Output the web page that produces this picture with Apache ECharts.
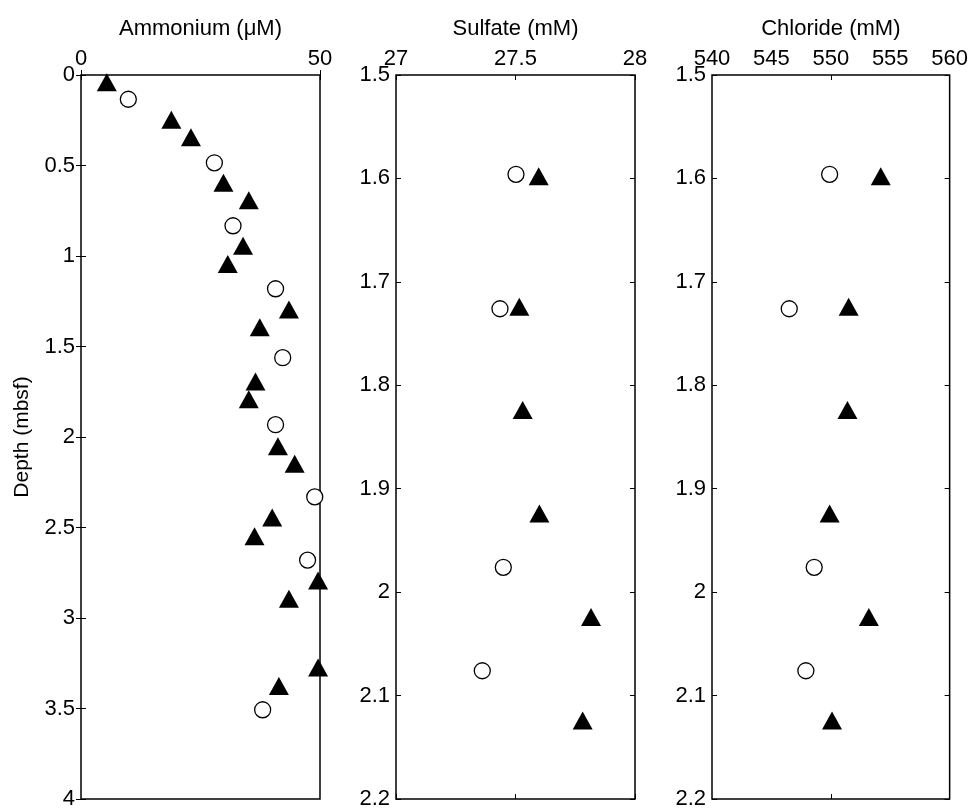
<!DOCTYPE html>
<html>
<head>
<meta charset="utf-8">
<script src="https://cdn.jsdelivr.net/npm/echarts@6/dist/echarts.min.js"></script>
<style>html,body{margin:0;padding:0;background:#fff;}#c{width:971px;height:810px;}</style>
</head>
<body>
<div id="c"></div>
<script>
// ---- Data ----
const panelTitles = ['Ammonium (\u03bcM)', 'Sulfate (mM)', 'Chloride (mM)'];
const depthLabel = 'Depth (mbsf)';

// Ammonium (µM) vs depth (mbsf)
const ammTriDepth = [0.04, 0.247, 0.344, 0.595, 0.692, 0.943, 1.044, 1.295, 1.394, 1.694, 1.791, 2.051, 2.148, 2.445, 2.548, 2.793, 2.894, 3.273, 3.375];
const ammTriValue = [5.4, 18.9, 23.0, 29.8, 35.1, 33.9, 30.7, 43.5, 37.4, 36.5, 35.1, 41.2, 44.7, 40.0, 36.3, 49.6, 43.5, 49.6, 41.4];
const ammCirDepth = [0.134, 0.485, 0.833, 1.181, 1.562, 1.932, 2.331, 2.68, 3.507];
const ammCirValue = [9.9, 27.9, 31.8, 40.7, 42.2, 40.7, 48.9, 47.4, 38.0];

// Sulfate (mM)
const sulTriDepth = [1.598, 1.724, 1.824, 1.924, 2.024, 2.124];
const sulTriValue = [27.597, 27.516, 27.530, 27.600, 27.816, 27.781];
const sulCirDepth = [1.596, 1.726, 1.976, 2.076];
const sulCirValue = [27.502, 27.435, 27.449, 27.361];

// Chloride (mM)
const chlTriDepth = [1.598, 1.724, 1.824, 1.924, 2.024, 2.124];
const chlTriValue = [554.2, 551.5, 551.4, 549.9, 553.2, 550.1];
const chlCirDepth = [1.596, 1.726, 1.976, 2.076];
const chlCirValue = [549.9, 546.5, 548.6, 547.9];

// Axis ranges / ticks
const xRanges = [[0, 50, 50], [27, 28, 0.5], [540, 560, 5]];
const yRanges = [[0, 4, 0.5], [1.5, 2.2, 0.1], [1.5, 2.2, 0.1]];
const xTickOnly = [null, null, [550]];

// ---- Build options ----
const font = 'Liberation Sans, Arial, Helvetica, sans-serif';
const fs = 22;
const gridPos = [
  {left: 81, top: 75, width: 239, height: 727},
  {left: 396, top: 75, width: 239, height: 727},
  {left: 712, top: 75, width: 238, height: 727}
];
const tick = {show: true, inside: true, length: 5, lineStyle: {color: '#000', width: 1}};
const pairs = (vals, deps) => vals.map((v, i) => [v, deps[i]]);
const fmtX = [v => String(v), v => String(+v.toFixed(1)), v => String(v)];
const fmtY = v => String(+v.toFixed(1));

const grid = gridPos.map(g => Object.assign({show: true, borderColor: '#000', borderWidth: 1.5, backgroundColor: 'transparent'}, g));
const xAxis = [], yAxis = [];
gridPos.forEach((g, i) => {
  const [xmin, xmax, xint] = xRanges[i];
  const [ymin, ymax, yint] = yRanges[i];
  const t = xTickOnly[i] ? Object.assign({}, tick, {customValues: xTickOnly[i]}) : tick;
  xAxis.push({
    type: 'value', gridIndex: i, position: 'top', min: xmin, max: xmax, interval: xint,
    name: panelTitles[i], nameLocation: 'middle', nameGap: 35,
    nameTextStyle: {fontFamily: font, fontSize: fs, color: '#000'},
    axisLine: {show: false}, axisTick: t, splitLine: {show: false},
    axisLabel: {fontFamily: font, fontSize: fs, color: '#000', margin: 5, formatter: fmtX[i]}
  });
  xAxis.push({
    type: 'value', gridIndex: i, position: 'bottom', min: xmin, max: xmax, interval: xint,
    axisLine: {show: false}, axisTick: t, splitLine: {show: false}, axisLabel: {show: false}
  });
  yAxis.push(Object.assign({
    type: 'value', gridIndex: i, position: 'left', inverse: true, min: ymin, max: ymax, interval: yint,
    axisLine: {show: false}, axisTick: tick, splitLine: {show: false},
    axisLabel: {fontFamily: font, fontSize: fs, color: '#000', margin: 6, formatter: fmtY}
  }, i === 0 ? {name: depthLabel, nameLocation: 'middle', nameGap: 48,
    nameTextStyle: {fontFamily: font, fontSize: fs - 1, color: '#000'}} : {}));
  yAxis.push({
    type: 'value', gridIndex: i, position: 'right', inverse: true, min: ymin, max: ymax, interval: yint,
    axisLine: {show: false}, axisTick: tick, splitLine: {show: false}, axisLabel: {show: false}
  });
});

const triStyle = {symbol: 'triangle', symbolSize: [20, 18], itemStyle: {color: '#000', opacity: 1}};
const cirStyle = {symbol: 'circle', symbolSize: 16, itemStyle: {color: '#fff', borderColor: '#000', borderWidth: 1.3, opacity: 1}};
const mk = (idx, data, style) => Object.assign({
  type: 'scatter', xAxisIndex: idx * 2, yAxisIndex: idx * 2, data: data, clip: false, silent: true, animation: false
}, style);

const series = [
  mk(0, pairs(ammCirValue, ammCirDepth), cirStyle),
  mk(0, pairs(ammTriValue, ammTriDepth), triStyle),
  mk(1, pairs(sulCirValue, sulCirDepth), cirStyle),
  mk(1, pairs(sulTriValue, sulTriDepth), triStyle),
  mk(2, pairs(chlCirValue, chlCirDepth), cirStyle),
  mk(2, pairs(chlTriValue, chlTriDepth), triStyle)
];

const chart = echarts.init(document.getElementById('c'), null, {renderer: 'canvas'});
chart.setOption({animation: false, backgroundColor: '#fff', grid, xAxis, yAxis, series});
</script>
</body>
</html>
